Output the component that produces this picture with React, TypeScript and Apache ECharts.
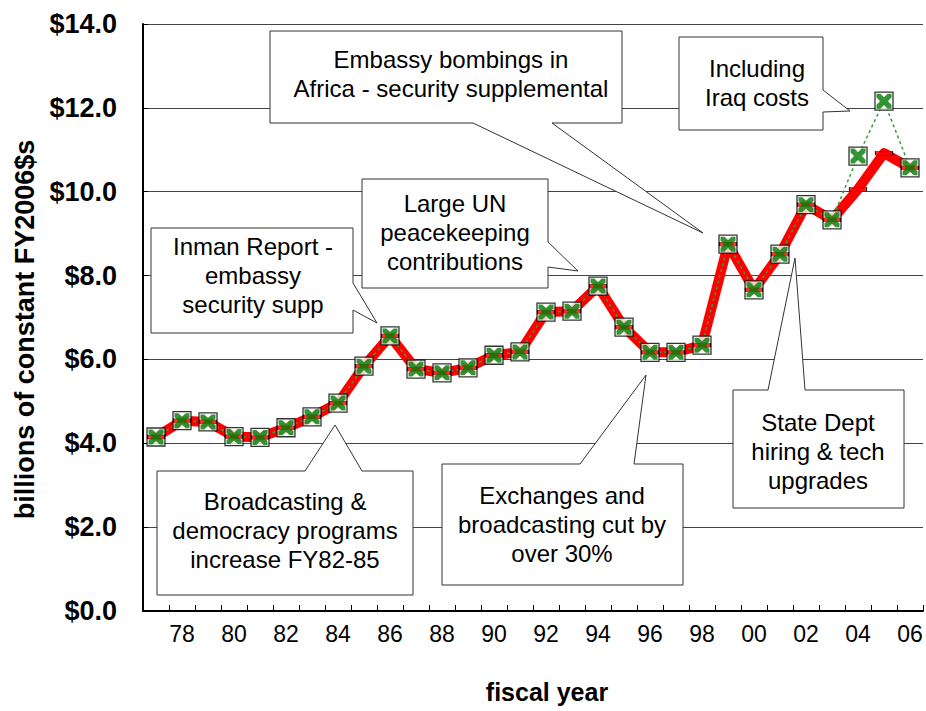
import React, { useEffect, useRef } from 'react';
import * as echarts from 'echarts';

// fiscal years 1977 .. 2006
const years = [
  '77', '78', '79', '80', '81', '82', '83', '84', '85', '86',
  '87', '88', '89', '90', '91', '92', '93', '94', '95', '96',
  '97', '98', '99', '00', '01', '02', '03', '04', '05', '06',
];

// billions of constant FY2006 dollars, excluding Iraq costs
const baseSpending = [
  4.15, 4.54, 4.51, 4.16, 4.14, 4.37, 4.63, 4.96, 5.84, 6.56,
  5.77, 5.68, 5.80, 6.10, 6.18, 7.13, 7.15, 7.75, 6.77, 6.17,
  6.17, 6.34, 8.75, 7.66, 8.51, 9.69, 9.33, 10.06, 10.92, 10.57,
];

// same series including Iraq costs
const withIraqCosts = [
  4.15, 4.54, 4.51, 4.16, 4.14, 4.37, 4.63, 4.96, 5.84, 6.56,
  5.77, 5.68, 5.80, 6.10, 6.18, 7.13, 7.15, 7.75, 6.77, 6.17,
  6.17, 6.34, 8.75, 7.66, 8.51, 9.69, 9.33, 10.85, 12.16, 10.57,
];

const FONT = '"Liberation Sans", Arial, sans-serif';

type Callout = { lines: string[]; points: number[][]; tx: number; ty: number };

const callouts: Callout[] = [
  {
    lines: ['Inman Report -', 'embassy', 'security supp'],
    points: [[151, 228], [353, 228], [353, 283], [377, 323], [353, 310], [353, 333], [151, 333]],
    tx: 253, ty: 275,
  },
  {
    lines: ['Large UN', 'peacekeeping', 'contributions'],
    points: [[362, 179], [548, 179], [548, 242], [578, 271], [548, 267], [548, 288], [362, 288]],
    tx: 455, ty: 232,
  },
  {
    lines: ['Embassy bombings in', 'Africa - security supplemental'],
    points: [[270, 31], [622, 31], [622, 123], [552, 123], [703, 233], [473, 123], [270, 123]],
    tx: 451, ty: 74,
  },
  {
    lines: ['Including', 'Iraq costs'],
    points: [[679, 37], [823, 37], [823, 90], [850, 111], [823, 112], [823, 130], [679, 130]],
    tx: 757, ty: 83,
  },
  {
    lines: ['Broadcasting &', 'democracy programs', 'increase FY82-85'],
    points: [[157, 471], [305, 471], [335, 425], [362, 471], [413, 471], [413, 595], [157, 595]],
    tx: 285, ty: 530,
  },
  {
    lines: ['Exchanges and', 'broadcasting cut by', 'over 30%'],
    points: [[442, 464], [580, 464], [646, 375], [634, 464], [683, 464], [683, 585], [442, 585]],
    tx: 562, ty: 524,
  },
  {
    lines: ['State Dept', 'hiring & tech', 'upgrades'],
    points: [[733, 390], [768, 390], [795, 258], [805, 390], [904, 390], [904, 508], [733, 508]],
    tx: 818, ty: 451,
  },
];

const xSymbol = 'path://M0,0 L2.6,0 L5,2.4 L7.4,0 L10,0 L10,2.6 L7.6,5 L10,7.4 L10,10 L7.4,10 L5,7.6 L2.6,10 L0,10 L0,7.4 L2.4,5 L0,2.6 Z';

export default function App() {
  const ref = useRef<HTMLDivElement>(null);

  useEffect(() => {
    if (!ref.current) return;
    const chart = echarts.init(ref.current, undefined, { renderer: 'svg' });

    const graphic: any[] = [];
    callouts.forEach((c) => {
      graphic.push({
        type: 'polygon',
        z: 100,
        shape: { points: c.points },
        style: { fill: '#fff', stroke: '#333', lineWidth: 1 },
      });
      graphic.push({
        type: 'text',
        z: 101,
        x: c.tx,
        y: c.ty,
        style: {
          text: c.lines.join('\n'),
          fontSize: 24,
          fontFamily: FONT,
          lineHeight: 29,
          align: 'center',
          verticalAlign: 'middle',
          fill: '#000',
        },
      });
    });

    chart.setOption({
      animation: false,
      backgroundColor: '#fff',
      grid: { left: 143, right: 3, top: 24, bottom: 100 },
      xAxis: {
        type: 'category',
        data: years,
        boundaryGap: true,
        name: 'fiscal year',
        nameLocation: 'middle',
        nameGap: 68,
        nameTextStyle: {
          fontSize: 25,
          fontWeight: 'bold',
          fontFamily: FONT,
          color: '#000',
          padding: [0, 0, 0, 28],
        },
        axisLine: { lineStyle: { color: '#000', width: 2 } },
        axisTick: { show: true, inside: true, length: 6, interval: 0, lineStyle: { color: '#000' } },
        axisLabel: {
          interval: (index: number) => index % 2 === 1,
          fontSize: 23,
          fontFamily: FONT,
          color: '#000',
          margin: 11,
        },
        splitLine: { show: false },
      },
      yAxis: {
        type: 'value',
        min: 0,
        max: 14,
        interval: 2,
        name: 'billions of constant FY2006$s',
        nameLocation: 'middle',
        nameGap: 102,
        nameTextStyle: {
          fontSize: 27,
          fontWeight: 'bold',
          fontFamily: FONT,
          color: '#000',
          padding: [0, 24, 0, 0],
        },
        axisLine: { show: true, lineStyle: { color: '#000', width: 2 } },
        axisTick: { show: true, inside: true, length: 5, lineStyle: { color: '#000' } },
        axisLabel: {
          formatter: (v: number) => '$' + v.toFixed(1),
          fontSize: 27,
          fontWeight: 'bold',
          fontFamily: FONT,
          color: '#000',
          margin: 26,
        },
        splitLine: { show: true, lineStyle: { color: '#444', width: 1 } },
      },
      series: [
        {
          name: 'excluding Iraq',
          type: 'line',
          data: baseSpending,
          symbol: 'none',
          z: 2,
          lineStyle: { color: '#ff0000', width: 10, cap: 'round', join: 'round' },
        },
        {
          name: 'including Iraq',
          type: 'line',
          data: withIraqCosts,
          symbol: 'none',
          z: 3,
          lineStyle: { color: '#3a9a3a', width: 1.5, type: [3, 3] },
        },
        {
          type: 'scatter',
          data: withIraqCosts,
          symbol: 'rect',
          symbolSize: 18,
          z: 4,
          itemStyle: { color: '#fff', borderColor: '#000', borderWidth: 1.3 },
        },
        {
          type: 'scatter',
          data: baseSpending,
          symbol: 'rect',
          symbolSize: [17, 4],
          z: 5,
          itemStyle: { color: '#ff0000', borderColor: '#000', borderWidth: 0.6 },
        },
        {
          type: 'scatter',
          data: withIraqCosts,
          symbol: xSymbol,
          symbolSize: 15,
          z: 6,
          itemStyle: { color: '#007a00' },
        },
      ],
      graphic,
    });

    return () => chart.dispose();
  }, []);

  return (
    <div
      ref={ref}
      style={{ position: 'fixed', left: 0, top: 0, width: 926, height: 711 }}
    />
  );
}
